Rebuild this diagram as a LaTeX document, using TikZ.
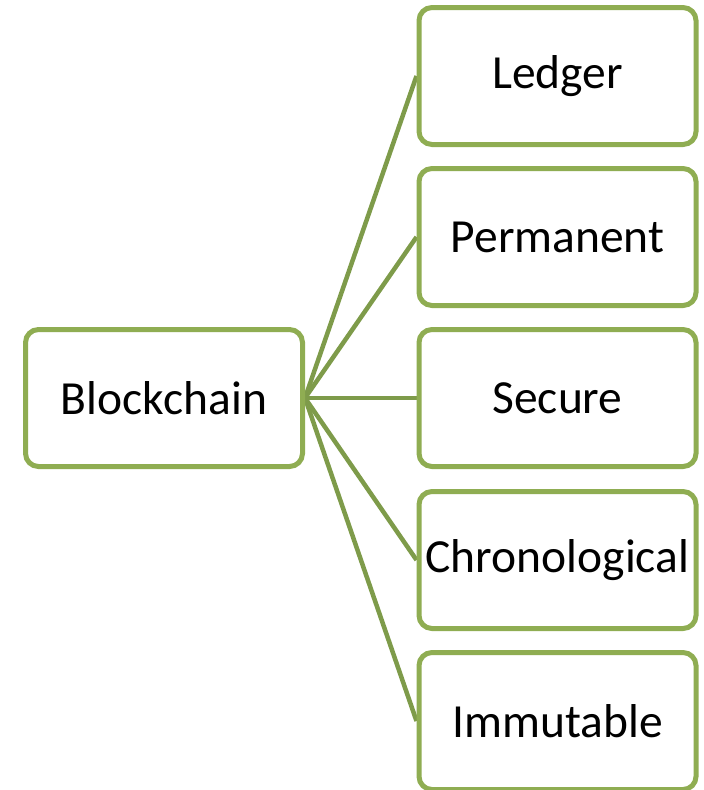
\documentclass[tikz,border=0pt]{standalone}
\usepackage{fontspec}
\setmainfont{Carlito}
\usetikzlibrary{backgrounds}
\definecolor{boxgreen}{HTML}{8FAD52}
\definecolor{linkgreen}{HTML}{7E9B4A}
\begin{document}
\begin{tikzpicture}[x=1pt,y=-1pt,
  item/.style={draw=boxgreen, line width=5pt, fill=white, rounded corners=13pt,
    minimum width=277pt, minimum height=137pt, inner sep=0pt,
    font=\fontsize{47.5}{56}\selectfont, text=black},
  link/.style={draw=linkgreen, line width=4.5pt}]
  \useasboundingbox (0,0) rectangle (704,790);
  \node[item] (root) at (164,398) {Blockchain};
  \node[item] (ledger) at (557.5,76) {Ledger};
  \node[item] (perm) at (557.5,237) {Permanent};
  \node[item] (secure) at (557.5,398) {Secure};
  \node[item] (chrono) at (557.5,560) {Chronological};
  \node[item] (immut) at (557.5,721) {Immutable};
  \begin{pgfonlayer}{background}
    \foreach \n in {ledger,perm,secure,chrono,immut}
      \draw[link] (root.east) -- (\n.west);
  \end{pgfonlayer}
\end{tikzpicture}
\end{document}
